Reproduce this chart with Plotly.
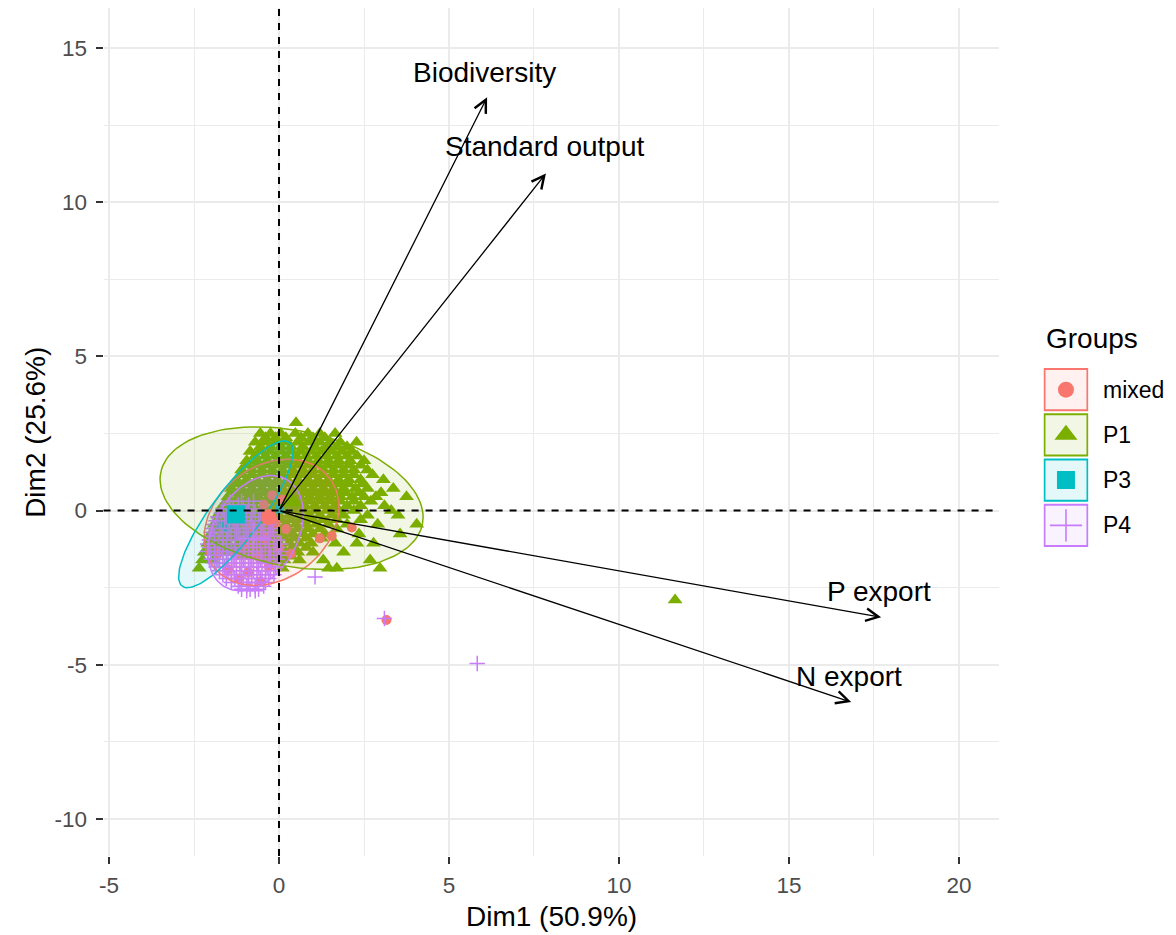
import numpy as np
import plotly.graph_objects as go

# ---------------- data ----------------
groups = ["mixed", "P1", "P3", "P4"]
group_colors = ["#F8766D", "#7CAE00", "#00BFC4", "#C77CFF"]
group_fills = ["rgba(248,118,109,0.1)", "rgba(124,174,0,0.1)",
               "rgba(0,191,196,0.1)", "rgba(199,124,255,0.1)"]

x_ticks = [-5, 0, 5, 10, 15, 20]
x_tick_labels = ["-5", "0", "5", "10", "15", "20"]
x_minor = [-2.5, 2.5, 7.5, 12.5, 17.5]
y_ticks = [-10, -5, 0, 5, 10, 15]
y_tick_labels = ["-10", "-5", "0", "5", "10", "15"]
y_minor = [-7.5, -2.5, 2.5, 7.5, 12.5]
x_title = "Dim1 (50.9%)"
y_title = "Dim2 (25.6%)"
legend_title = "Groups"

# variable arrows (end points) and their labels
var_names = ["Biodiversity", "Standard output", "P export", "N export"]
var_x = [6.12, 7.85, 17.71, 16.83]
var_y = [13.40, 10.93, -3.46, -6.21]
var_label_x = [6.05, 7.80, 17.65, 16.77]
var_label_y = [14.22, 11.82, -2.63, -5.39]

# individuals: (y, [x ...])
p1_rows = [
    (2.85, [0.5]),
    (2.5, [-0.55, -0.25, 0.05, 0.48, 0.85, 1.2, 1.65]),
    (2.36, [-0.4, -0.1, 0.2, 0.65, 1.0, 1.35]),
    (2.22, [-0.7, -0.4, -0.1, 0.2, 0.55, 0.87, 1.2, 1.5, 1.8, 2.28]),
    (2.07, [-0.55, -0.25, 0.05, 0.35, 0.7, 1.05, 1.4, 1.7, 2.0]),
    (1.92, [-0.85, -0.55, -0.25, 0.05, 0.35, 0.65, 0.95, 1.25, 1.55, 1.85, 2.15]),
    (1.77, [-0.7, -0.4, -0.1, 0.2, 0.5, 0.8, 1.1, 1.4, 1.7, 2.0, 2.3]),
    (1.62, [-0.95, -0.65, -0.35, -0.05, 0.25, 0.55, 0.85, 1.15, 1.45, 1.75, 2.09, 2.5]),
    (1.47, [-0.95, -0.65, -0.35, -0.05, 0.25, 0.55, 0.85, 1.15, 1.45, 1.75, 2.05, 2.4]),
    (1.32, [-1.1, -0.8, -0.5, -0.2, 0.1, 0.4, 0.7, 1.0, 1.3, 1.6, 1.9, 2.2, 2.6]),
    (1.16, [-1.1, -0.8, -0.5, -0.2, 0.1, 0.4, 0.7, 1.0, 1.3, 1.6, 1.9, 2.2, 2.75]),
    (1.0, [-1.25, -0.95, -0.65, -0.35, -0.05, 0.25, 0.55, 0.85, 1.15, 1.45, 1.75, 2.05, 2.4, 3.07]),
    (0.86, [-1.25, -0.95, -0.65, -0.35, -0.05, 0.25, 0.55, 0.85, 1.15, 1.45, 1.75, 2.05, 2.45]),
    (0.72, [-1.4, -1.1, -0.8, -0.5, -0.2, 0.1, 0.4, 0.7, 1.0, 1.3, 1.6, 1.9, 2.25, 2.6, 3.36]),
    (0.58, [-1.35, -1.05, -0.75, -0.45, -0.15, 0.15, 0.45, 0.75, 1.05, 1.35, 1.65, 1.95, 2.35, 3.0]),
    (0.45, [-1.5, -1.2, -0.9, -0.6, -0.3, 0.0, 0.3, 0.6, 0.9, 1.2, 1.5, 1.8, 2.15, 2.5, 2.85, 3.75]),
    (0.3, [-1.5, -1.2, -0.9, -0.6, -0.3, 0.0, 0.3, 0.6, 0.9, 1.2, 1.5, 1.8, 2.2, 2.7]),
    (0.16, [-1.65, -1.35, -1.05, -0.75, -0.45, -0.15, 0.15, 0.45, 0.75, 1.05, 1.35, 1.65, 2.0, 2.4, 3.1]),
    (0.0, [-1.65, -1.35, -1.05, -0.75, -0.45, -0.15, 0.15, 0.45, 0.75, 1.05, 1.4, 1.75, 2.2, 3.3]),
    (-0.15, [-1.8, -1.5, -1.2, -0.9, -0.6, -0.3, 0.0, 0.3, 0.6, 0.9, 1.2, 1.55, 1.9, 2.6, 3.5]),
    (-0.3, [-1.75, -1.45, -1.15, -0.85, -0.55, -0.25, 0.05, 0.35, 0.65, 0.95, 1.3, 1.7, 2.4]),
    (-0.44, [-1.9, -1.6, -1.3, -1.0, -0.7, -0.4, -0.1, 0.2, 0.5, 0.8, 1.1, 1.45, 2.0, 2.9, 4.05]),
    (-0.6, [-1.85, -1.55, -1.25, -0.95, -0.65, -0.35, -0.05, 0.25, 0.55, 0.85, 1.2, 1.7]),
    (-0.76, [-2.0, -1.7, -1.4, -1.1, -0.8, -0.5, -0.2, 0.1, 0.4, 0.7, 1.0, 1.35, 2.35, 3.56]),
    (-0.9, [-1.95, -1.65, -1.35, -1.05, -0.75, -0.45, -0.15, 0.15, 0.45, 0.8, 1.25]),
    (-1.06, [-2.1, -1.8, -1.5, -1.2, -0.9, -0.6, -0.3, 0.0, 0.3, 0.6, 0.95, 1.65, 2.29, 2.78]),
    (-1.2, [-2.05, -1.75, -1.45, -1.15, -0.85, -0.55, -0.25, 0.05, 0.4, 0.8]),
    (-1.35, [-2.2, -1.9, -1.6, -1.3, -1.0, -0.7, -0.4, -0.1, 0.2, 0.55, 1.0, 1.9]),
    (-1.48, [-1.05, -0.75, -0.35, 0.0, 0.35]),
    (-1.6, [-2.25, -1.95, -0.5, -0.2, 0.15, 0.6, 1.3, 2.68]),
    (-1.87, [-2.35, 0.1, 1.46, 1.7, 2.97]),
    (-2.9, [11.65]),
]

mixed_pts = [(-0.2, 0.5), (-0.45, 0.2), (0.1, 0.35), (-0.1, -0.4), (0.2, -0.6),
             (-0.8, -0.5), (-0.4, -0.9), (0.0, -1.2), (-1.0, -1.1), (-1.3, -1.4),
             (-0.6, -1.5), (-1.8, -1.4), (-0.3, -1.8), (-1.5, -1.9), (-0.9, -2.0),
             (-1.2, -2.2), (-0.55, -2.3), (0.35, -1.4), (1.2, -0.9), (1.55, -0.82),
             (2.14, -0.55), (3.16, -3.55)]

p3_pts = [(-1.7, -0.44), (-1.55, -0.55), (0.02, 0.05), (-1.05, -0.3)]

p4_rows = [
    (0.3, [-1.45, -1.1, -0.75]),
    (0.18, [-1.5, -1.2, -0.9]),
    (0.05, [-1.65, -1.35, -1.05, -0.75]),
    (-0.08, [-1.7, -1.45, -1.2, -0.95, -0.7]),
    (-0.2, [-1.8, -1.55, -1.05, -0.8, -0.55]),
    (-0.33, [-1.85, -1.6, -1.35, -1.1, -0.85, -0.6, -0.4]),
    (-0.45, [-1.95, -1.3, -1.05, -0.8, -0.55, -0.3]),
    (-0.58, [-1.95, -1.7, -1.45, -1.2, -0.95, -0.7, -0.45, -0.2]),
    (-0.7, [-2.0, -1.75, -1.5, -1.25, -1.0, -0.75, -0.5, -0.25]),
    (-0.83, [-2.05, -1.9, -1.65, -1.4, -1.15, -0.9, -0.65, -0.4, -0.15]),
    (-0.95, [-2.05, -1.8, -1.55, -1.3, -1.05, -0.8, -0.55, -0.3, -0.05]),
    (-1.08, [-2.1, -1.9, -1.65, -1.4, -1.15, -0.9, -0.65, -0.4, -0.15, 0.05]),
    (-1.2, [-2.05, -1.8, -1.55, -1.3, -1.05, -0.8, -0.55, -0.3, -0.05]),
    (-1.33, [-2.1, -1.9, -1.65, -1.4, -1.15, -0.9, -0.65, -0.4, -0.15, 0.05]),
    (-1.45, [-2.0, -1.75, -1.5, -1.25, -1.0, -0.75, -0.5, -0.25, 0.0]),
    (-1.58, [-2.0, -1.8, -1.55, -1.3, -1.05, -0.8, -0.55, -0.3, -0.05]),
    (-1.7, [-1.9, -1.65, -1.4, -1.15, -0.9, -0.65, -0.4, -0.15]),
    (-1.83, [-1.85, -1.6, -1.35, -1.1, -0.85, -0.6, -0.35, -0.1]),
    (-1.95, [-1.75, -1.5, -1.25, -1.0, -0.75, -0.5, -0.25]),
    (-2.08, [-1.65, -1.4, -1.15, -0.9, -0.65, -0.4, -0.15]),
    (-2.2, [-1.55, -1.3, -1.05, -0.8, -0.55, -0.3]),
    (-2.33, [-1.4, -1.15, -0.9, -0.65, -0.4]),
    (-2.45, [-1.2, -0.95, -0.7, -0.45]),
    (-2.55, [-1.1, -0.85, -0.6]),
    (-2.6, [-0.95, -0.7]),
    (-2.15, [1.06]),
    (-3.5, [3.1]),
    (-4.96, [5.83]),
]

# group mean points
mean_x = [-0.30, 0.35, -1.27, -0.75]
mean_y = [-0.21, 0.30, -0.12, -0.90]

# concentration ellipses: centre and two semi-axis vectors (data units)
ell_cx = [-0.22, 0.37, -1.27, -0.69]
ell_cy = [-0.38, 0.40, -0.12, -0.73]
ell_u = [(1.485, 1.69), (3.85, -0.83), (1.58, 2.33), (0.91, 1.74)]
ell_v = [(-1.314, 1.155), (0.38, 2.16), (-0.58, 0.49), (-1.07, 0.68)]

# ---------------- helpers ----------------
def rows_to_xy(rows):
    xs, ys = [], []
    for yv, xl in rows:
        for xv in xl:
            xs.append(xv)
            ys.append(yv)
    return xs, ys

def pts_to_xy(pts):
    return [p[0] for p in pts], [p[1] for p in pts]

p1_x, p1_y = rows_to_xy(p1_rows)
p4_x, p4_y = rows_to_xy(p4_rows)
mixed_x, mixed_y = pts_to_xy(mixed_pts)
p3_x, p3_y = pts_to_xy(p3_pts)

FONT = "Liberation Sans, Arial, sans-serif"
W, H = 1176, 935
# panel in pixels
PL, PR, PT, PB = 99, 998, 8, 856

fig = go.Figure()

small_sym = {"mixed": ("circle", 10), "P1": ("triangle-up", 13),
             "P3": ("square", 9), "P4": ("cross-thin", 11)}
big_sym = {"mixed": ("circle", 16), "P1": ("triangle-up", 20),
           "P3": ("square", 18), "P4": ("cross-thin", 23)}

def marker(g, big=False):
    i = groups.index(g)
    sym, size = (big_sym if big else small_sym)[g]
    m = dict(symbol=sym, size=size, color=group_colors[i])
    if sym == "cross-thin":
        m["line"] = dict(color=group_colors[i], width=1.6 if big else 1.5)
    else:
        m["line"] = dict(width=0)
    return m

# points
for g, xs, ys in [("P1", p1_x, p1_y), ("mixed", mixed_x, mixed_y),
                  ("P3", p3_x, p3_y), ("P4", p4_x, p4_y)]:
    fig.add_trace(go.Scatter(x=xs, y=ys, mode="markers", marker=marker(g),
                             name=g, showlegend=False, hoverinfo="skip"))

# ellipses
t = np.linspace(0, 2 * np.pi, 121)
for i, g in enumerate(groups):
    ex = ell_cx[i] + ell_u[i][0] * np.cos(t) + ell_v[i][0] * np.sin(t)
    ey = ell_cy[i] + ell_u[i][1] * np.cos(t) + ell_v[i][1] * np.sin(t)
    fig.add_trace(go.Scatter(x=ex, y=ey, mode="lines", fill="toself",
                             fillcolor=group_fills[i],
                             line=dict(color=group_colors[i], width=1.5),
                             showlegend=False, hoverinfo="skip"))

# group means
for i, g in enumerate(groups):
    fig.add_trace(go.Scatter(x=[mean_x[i]], y=[mean_y[i]], mode="markers",
                             marker=marker(g, big=True), showlegend=False,
                             hoverinfo="skip"))

# legend markers on a helper axis
legend_rows = [3.5, 2.5, 1.5, 0.5]
for i, g in enumerate(groups):
    fig.add_trace(go.Scatter(x=[0.5], y=[legend_rows[i]], mode="markers",
                             marker=marker(g, big=True), xaxis="x2", yaxis="y2",
                             showlegend=False, hoverinfo="skip"))

shapes = []
# dashed reference lines
shapes.append(dict(type="line", xref="x", yref="y domain", x0=0, x1=0, y0=0, y1=1,
                   line=dict(color="black", width=2, dash="7px,7px"), layer="above"))
shapes.append(dict(type="line", xref="x domain", yref="y", x0=0, x1=1, y0=0, y1=0,
                   line=dict(color="black", width=2, dash="7px,7px"), layer="above"))
# legend key boxes
for i, g in enumerate(groups):
    shapes.append(dict(type="rect", xref="x2", yref="y2", x0=0.02, x1=0.98,
                       y0=legend_rows[i] - 0.455, y1=legend_rows[i] + 0.455,
                       line=dict(color=group_colors[i], width=2),
                       fillcolor=group_fills[i], layer="below"))

annotations = []
# arrows
for i, nm in enumerate(var_names):
    annotations.append(dict(x=var_x[i], y=var_y[i], xref="x", yref="y",
                            ax=0, ay=0, axref="x", ayref="y", text="",
                            showarrow=True, arrowhead=5, arrowsize=1.9,
                            arrowwidth=1.3, arrowcolor="black", standoff=0))
    annotations.append(dict(x=var_label_x[i], y=var_label_y[i], xref="x", yref="y",
                            text=nm, showarrow=False, xanchor="center",
                            yanchor="middle",
                            font=dict(family=FONT, size=28, color="black")))

# axis titles
annotations.append(dict(x=(PL + PR) / 2 / W, y=1 - 916 / H, xref="paper", yref="paper",
                        text=x_title, showarrow=False, xanchor="center",
                        yanchor="middle", font=dict(family=FONT, size=28, color="black")))
annotations.append(dict(x=30 / W, y=1 - (PT + PB) / 2 / H, xref="paper", yref="paper",
                        text=y_title, showarrow=False, textangle=-90,
                        xanchor="center", yanchor="middle",
                        font=dict(family=FONT, size=28, color="black")))
# legend texts
annotations.append(dict(x=1043 / W, y=1 - 338 / H, xref="paper", yref="paper",
                        text=legend_title, showarrow=False, xanchor="left",
                        yanchor="middle", font=dict(family=FONT, size=28, color="black")))
for i, g in enumerate(groups):
    annotations.append(dict(x=1101 / W, y=legend_rows[i], xref="paper", yref="y2",
                            text=g, showarrow=False, xanchor="left", yanchor="middle",
                            font=dict(family=FONT, size=23, color="black")))

x_range = [-5.16, 21.17]
y_range = [-11.2, 16.297]

axis_common = dict(showline=False, zeroline=False, ticks="outside", ticklen=7,
                   tickwidth=2, tickcolor="#333333",
                   gridcolor="#EBEBEB", gridwidth=1.8,
                   tickfont=dict(family=FONT, size=22.5, color="#4D4D4D"),
                   tickmode="array", fixedrange=True)

fig.update_layout(
    width=W, height=H, autosize=False,
    margin=dict(l=0, r=0, t=0, b=0, pad=0),
    paper_bgcolor="white", plot_bgcolor="white",
    showlegend=False,
    xaxis=dict(domain=[PL / W, PR / W], range=x_range, tickvals=x_ticks,
               ticktext=x_tick_labels, anchor="y", ticklabelstandoff=2,
               minor=dict(tickmode="array", tickvals=x_minor, showgrid=True,
                          gridcolor="#EBEBEB", gridwidth=1.4, ticks=""),
               **axis_common),
    yaxis=dict(domain=[1 - PB / H, 1 - PT / H], range=y_range, tickvals=y_ticks,
               ticktext=y_tick_labels, anchor="x", ticklabelstandoff=4,
               minor=dict(tickmode="array", tickvals=y_minor, showgrid=True,
                          gridcolor="#EBEBEB", gridwidth=1.4, ticks=""),
               **axis_common),
    xaxis2=dict(domain=[1043 / W, 1088 / W], range=[0, 1], visible=False,
                anchor="y2", fixedrange=True),
    yaxis2=dict(domain=[1 - 548 / H, 1 - 367 / H], range=[0, 4], visible=False,
                anchor="x2", fixedrange=True),
    shapes=shapes,
    annotations=annotations,
)

fig.write_html("out.html",
               config={"displayModeBar": False},
               post_script="document.body.style.margin='0px';"
                           "document.body.style.overflow='hidden';")
